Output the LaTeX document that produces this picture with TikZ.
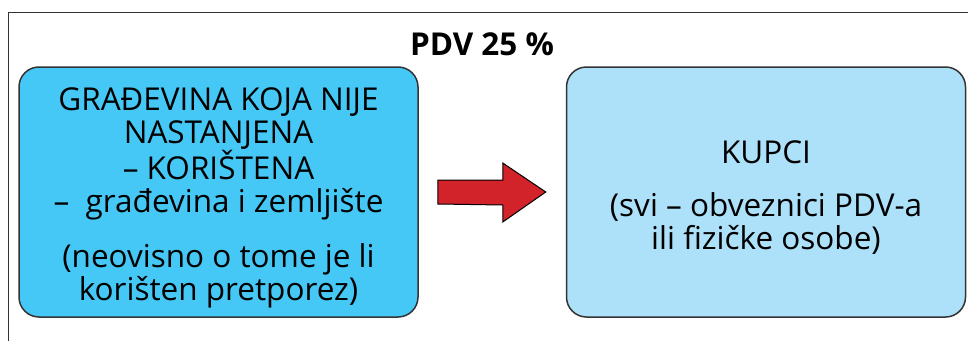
\documentclass[tikz,border=0pt]{standalone}
\usepackage{fontspec}
\setmainfont{Open Sans}
\usetikzlibrary{calc}
\definecolor{boxA}{HTML}{45C8F5}
\definecolor{boxB}{HTML}{ADE1FA}
\definecolor{arrowred}{HTML}{D2232A}
\definecolor{edge}{HTML}{333333}
\newcommand{\toppad}{\rule{0pt}{34pt}}
\tikzset{
  framebox/.style={draw=edge, line width=1pt},
  roundbox/.style={draw=edge, line width=1.5pt, rounded corners=20pt, align=center,
    inner sep=0pt, minimum width=399pt, minimum height=250pt,
    font=\fontsize{31.5}{33}\selectfont},
  bigarrow/.style={draw=black, line width=1pt, fill=arrowred, line join=miter},
  title/.style={font=\bfseries\fontsize{31.5}{33}\selectfont, anchor=base}
}
\begin{document}
\begin{tikzpicture}[x=1pt,y=-1pt]
\useasboundingbox (0,0) rectangle (968,340);
\clip (0,0) rectangle (968,340);
\draw[framebox] (8,12) rectangle (1000,400);
\node[title] (pdv) at (482,55) {PDV 25 \%};
\node[roundbox, fill=boxA] (src) at (218.5,192)
  {\toppad GRAĐEVINA KOJA NIJE\\NASTANJENA\\– KORIŠTENA\\–\ \ građevina i zemljište\\[22pt]
   (neovisno o tome je li\\korišten pretporez)};
\node[roundbox, fill=boxB] (dst) at (766,192)
  {\toppad KUPCI\\[20pt](svi – obveznici PDV-a\\ili fizičke osobe)};
\draw[bigarrow] ($(src.east)+(19,-12)$) -- ++(65,0) -- ++(0,-17) -- ($(dst.west)+(-20,0)$)
  -- ($(src.east)+(84,30)$) -- ++(0,-17) -- ($(src.east)+(19,12)$) -- cycle;
\end{tikzpicture}
\end{document}
